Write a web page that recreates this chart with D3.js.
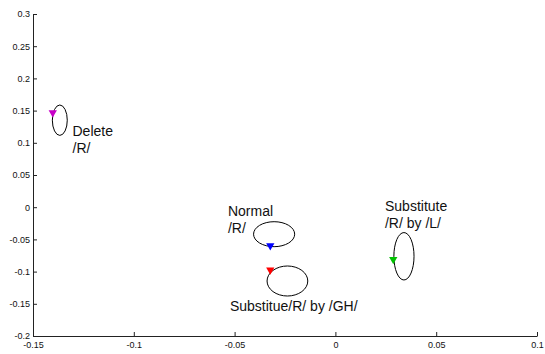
<!DOCTYPE html>
<html>
<head>
<meta charset="utf-8">
<script src="https://cdn.jsdelivr.net/npm/d3@7"></script>
<style>
  body { margin: 0; background: #fff; }
  svg { display: block; font-family: "Liberation Sans", Arial, sans-serif; }
</style>
</head>
<body>
<svg id="chart" width="545" height="354"></svg>
<script>
// tick values
var xTicks = [-0.15, -0.1, -0.05, 0, 0.05, 0.1];
var yTicks = [-0.2, -0.15, -0.1, -0.05, 0, 0.05, 0.1, 0.15, 0.2, 0.25, 0.3];

// marker points (one per class)
var pointNames = ["Delete", "Normal", "SubstGH", "SubstL"];
var pointX = [-0.1402, -0.0323, -0.0323, 0.0287];
var pointY = [0.1467, -0.0598, -0.0975, -0.0810];
var pointColor = ["#c800c8", "#0000ff", "#ff0000", "#00c000"];

// ellipses around each point: centre and radii in data units
var ellCX = [-0.1367, -0.0304, -0.0238, 0.0340];
var ellCY = [0.1351, -0.0419, -0.1146, -0.0762];
var ellRX = [0.0037, 0.0102, 0.0101, 0.0050];
var ellRY = [0.0236, 0.0194, 0.0233, 0.0368];

// text labels (baseline of first line, data units)
var labelX = [-0.1304, -0.0533, -0.0523, 0.0246];
var labelY = [0.1106, -0.0132, -0.1612, -0.0054];
var labelLines = [["Delete", "/R/"], ["Normal", "/R/"], ["Substitue/R/ by /GH/"], ["Substitute", "/R/ by /L/"]];

var svg = d3.select("#chart");

var x = d3.scaleLinear().domain([-0.15, 0.1]).range([33, 537]);
var y = d3.scaleLinear().domain([-0.2, 0.3]).range([336, 14]);

//axes, matlab style: ticks inside, no box
var fmt = function(d){ return String(+d.toFixed(2)); };
var xAxis = d3.axisBottom(x).tickValues(xTicks).tickSizeInner(-4).tickSizeOuter(0).tickPadding(6).tickFormat(fmt);
var yAxis = d3.axisLeft(y).tickValues(yTicks).tickSizeInner(-4).tickSizeOuter(0).tickPadding(3).tickFormat(fmt);

var gx = svg.append("g").attr("transform", "translate(0,336)").call(xAxis);
var gy = svg.append("g").attr("transform", "translate(33,0)").call(yAxis);

[gx, gy].forEach(function(g){
    g.select(".domain").attr("stroke", "#222");
    g.selectAll(".tick line").attr("stroke", "#222");
    g.selectAll("text").attr("font-size", 9).attr("fill", "#111")
        .attr("font-family", "Liberation Sans, Arial, sans-serif");
});

//ellipses
svg.selectAll("ellipse").data(pointNames).enter().append("ellipse")
    .attr("cx", function(d,i){ return x(ellCX[i]); })
    .attr("cy", function(d,i){ return y(ellCY[i]); })
    .attr("rx", function(d,i){ return x(ellCX[i] + ellRX[i]) - x(ellCX[i]); })
    .attr("ry", function(d,i){ return y(ellCY[i]) - y(ellCY[i] + ellRY[i]); })
    .attr("fill", "none").attr("stroke", "#000").attr("stroke-width", 1);

//down pointing triangles
var tri = d3.symbol().type(d3.symbolTriangle).size(30);
svg.selectAll("path.marker").data(pointNames).enter().append("path")
    .attr("class", "marker")
    .attr("d", tri)
    .attr("transform", function(d,i){
        return "translate(" + x(pointX[i]) + "," + y(pointY[i]) + ") rotate(180)";
    })
    .attr("fill", function(d,i){ return pointColor[i]; });

//labels
labelLines.forEach(function(lines, i){
    var t = svg.append("text")
        .attr("x", x(labelX[i])).attr("y", y(labelY[i]))
        .attr("font-size", 14).attr("fill", "#111");
    lines.forEach(function(s, j){
        t.append("tspan").attr("x", x(labelX[i])).attr("dy", j == 0 ? 0 : 17).text(s);
    });
});
</script>
</body>
</html>
